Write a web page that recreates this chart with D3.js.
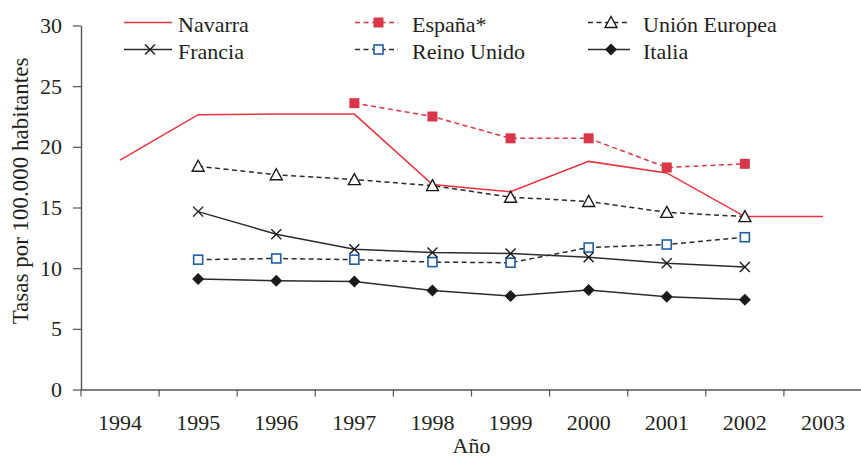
<!DOCTYPE html>
<html>
<head>
<meta charset="utf-8">
<script src="https://cdn.jsdelivr.net/npm/d3@7/dist/d3.min.js"></script>
<style>
  html, body { margin: 0; padding: 0; background: #fff; }
  svg { display: block; }
  text { font-family: "Liberation Serif", "DejaVu Serif", serif; fill: #231f20; }
</style>
</head>
<body>
<svg id="chart" width="861" height="457"></svg>
<script>
// ---- data ----
const years = ["1994","1995","1996","1997","1998","1999","2000","2001","2002","2003"];
const yTicks = [0, 5, 10, 15, 20, 25, 30];
const navarra      = [18.9, 22.65, 22.7, 22.7, 16.9, 16.3, 18.8, 17.85, 14.25, 14.25];
const espana       = [null, null, null, 23.6, 22.5, 20.7, 20.7, 18.3, 18.6, null];
const unionEuropea = [null, 18.4, 17.7, 17.3, 16.8, 15.85, 15.5, 14.6, 14.25, null];
const francia      = [null, 14.66, 12.8, 11.55, 11.3, 11.2, 10.9, 10.4, 10.1, null];
const reinoUnido   = [null, 10.7, 10.8, 10.7, 10.5, 10.45, 11.7, 11.95, 12.55, null];
const italia       = [null, 9.1, 8.97, 8.9, 8.15, 7.7, 8.2, 7.65, 7.4, null];
const yLabel = "Tasas por 100.000 habitantes";
const xLabel = "Año";

const RED = "#e8323c", RED_M = "#d9364a", DARK = "#2b2b2b", BLUE = "#1f5fa8";

const series = [
  {name: "Navarra", values: navarra, color: RED, dash: null, marker: null, col: 0, row: 0},
  {name: "España*", values: espana, color: RED_M, dash: "5,3.5", marker: "sqFill", col: 1, row: 0},
  {name: "Unión Europea", values: unionEuropea, color: DARK, dash: "5,3.5", marker: "tri", col: 2, row: 0},
  {name: "Francia", values: francia, color: DARK, dash: null, marker: "x", col: 0, row: 1},
  {name: "Reino Unido", values: reinoUnido, color: DARK, dash: "5,3.5", marker: "sqOpen", col: 1, row: 1},
  {name: "Italia", values: italia, color: DARK, dash: null, marker: "diamond", col: 2, row: 1}
];

const svg = d3.select("#chart");
const mLeft = 81, mRight = 862, mTop = 25.5, mBottom = 389.5;

const x = d3.scaleBand().domain(years).range([mLeft, mRight]).paddingInner(0).paddingOuter(0);
const cx = d => x(d) + x.bandwidth() / 2;
const y = d3.scaleLinear().domain([0, 30]).range([mBottom, mTop]);

// ---- axes ----
const yAxis = d3.axisLeft(y).tickValues(yTicks).tickSize(8).tickPadding(11).tickSizeOuter(0);
const gy = svg.append("g").attr("transform", `translate(${mLeft},0)`).call(yAxis);
gy.select(".domain").attr("stroke", "#555").attr("stroke-width", 1.4);
gy.selectAll(".tick line").attr("stroke", "#555").attr("stroke-width", 1.2);
gy.selectAll(".tick text").attr("font-size", 22).attr("fill", "#231f20")
  .attr("font-family", '"Liberation Serif", serif');

const xAxis = d3.axisBottom(x).tickSize(0).tickPadding(25).tickSizeOuter(0);
const gx = svg.append("g").attr("transform", `translate(0,${mBottom})`).call(xAxis);
gx.select(".domain").attr("stroke", "#555").attr("stroke-width", 1.4);
gx.selectAll(".tick text").attr("font-size", 22).attr("fill", "#231f20")
  .attr("font-family", '"Liberation Serif", serif');
// boundary ticks
const bounds = years.map(d => x(d));
gx.selectAll(".btick").data(bounds).enter().append("line")
  .attr("x1", d => d).attr("x2", d => d).attr("y1", 0).attr("y2", 7)
  .attr("stroke", "#555").attr("stroke-width", 1.2);

svg.append("text").attr("x", (mLeft + mRight) / 2).attr("y", 453)
  .attr("text-anchor", "middle").attr("font-size", 22).text(xLabel);
svg.append("text").attr("transform", "translate(28,191) rotate(-90)")
  .attr("text-anchor", "middle").attr("font-size", 23).text(yLabel);

// ---- markers ----
function drawMarker(g, type, px, py) {
  if (type === "sqFill") {
    g.append("rect").attr("x", px - 5).attr("y", py - 5).attr("width", 10).attr("height", 10)
      .attr("fill", RED_M);
  } else if (type === "sqOpen") {
    g.append("rect").attr("x", px - 4.5).attr("y", py - 4.5).attr("width", 9).attr("height", 9)
      .attr("fill", "#fff").attr("stroke", BLUE).attr("stroke-width", 1.6);
  } else if (type === "tri") {
    g.append("path").attr("d", `M${px},${py - 6}L${px + 6},${py + 5}L${px - 6},${py + 5}Z`)
      .attr("fill", "#fff").attr("stroke", "#1a1a1a").attr("stroke-width", 1.4);
  } else if (type === "x") {
    g.append("path").attr("d", `M${px - 5},${py - 5}L${px + 5},${py + 5}M${px - 5},${py + 5}L${px + 5},${py - 5}`)
      .attr("stroke", "#1a1a1a").attr("stroke-width", 1.4).attr("fill", "none");
  } else if (type === "diamond") {
    g.append("path").attr("d", `M${px},${py - 6}L${px + 6},${py}L${px},${py + 6}L${px - 6},${py}Z`)
      .attr("fill", "#1a1a1a");
  }
}

// ---- lines ----
const line = d3.line().defined(d => d.v != null).x(d => cx(d.year)).y(d => y(d.v));
const plot = svg.append("g");
const drawOrder = [2, 4, 3, 5, 1, 0];
drawOrder.forEach(i => {
  const s = series[i];
  const pts = years.map((yr, k) => ({year: yr, v: s.values[k]}));
  plot.append("path").datum(pts).attr("d", line)
    .attr("fill", "none").attr("stroke", s.color).attr("stroke-width", 1.5)
    .attr("stroke-dasharray", s.dash);
});
drawOrder.forEach(i => {
  const s = series[i];
  if (!s.marker) return;
  const g = plot.append("g");
  years.forEach((yr, k) => {
    const v = s.values[k];
    if (v != null) drawMarker(g, s.marker, cx(yr), y(v));
  });
});

// ---- legend ----
const colX = [[124, 172, 178], [355, 398, 412], [588, 630, 643]];
const rowY = [22.5, 49.5];
const leg = svg.append("g");
series.forEach(s => {
  const [x1, x2, tx] = colX[s.col];
  const ly = rowY[s.row];
  leg.append("line").attr("x1", x1).attr("x2", x2).attr("y1", ly).attr("y2", ly)
    .attr("stroke", s.color).attr("stroke-width", 1.5).attr("stroke-dasharray", s.dash);
  if (s.marker) drawMarker(leg, s.marker, (x1 + x2) / 2 + 2, ly);
  leg.append("text").attr("x", tx).attr("y", ly + 9).attr("font-size", 22).text(s.name);
});
</script>
</body>
</html>
